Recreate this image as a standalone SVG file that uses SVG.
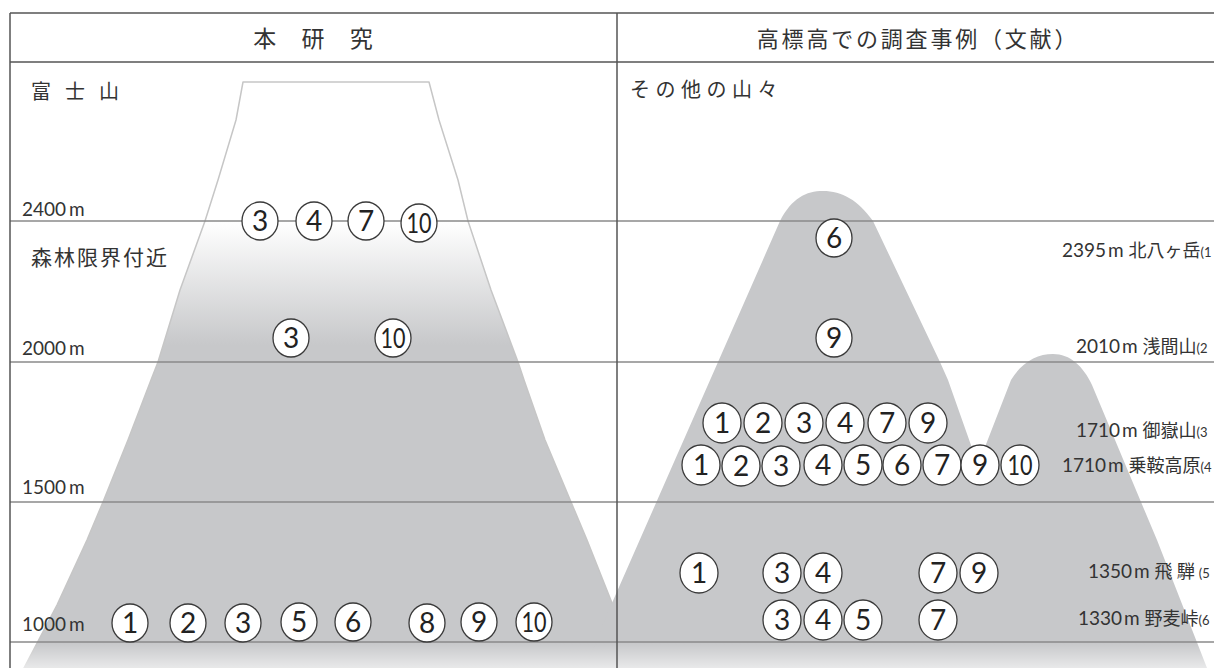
<svg xmlns="http://www.w3.org/2000/svg" width="1214" height="668" viewBox="0 0 1214 668">
<defs>
<style>
.frame{stroke:#555;stroke-width:1.5;fill:none}
.alt{stroke:#8a8a8a;stroke-width:1.4;fill:none}
.jp{font-family:"Noto Sans CJK JP","Noto Sans",sans-serif;fill:#333}
.num{font-family:Lato,"Noto Sans CJK JP",sans-serif;fill:#333}
.c{fill:#fff;stroke:#3a3a3a;stroke-width:1.3}
.n{font-family:Lato,"Liberation Sans",sans-serif;font-size:28px;fill:#222;text-anchor:middle}
.ten{font-size:27px}
.lbl{font-family:Lato,"Noto Sans CJK JP",sans-serif;font-size:19px;fill:#333}
.kj{font-family:"Noto Sans CJK JP",sans-serif;font-size:18px}
.ref{font-size:13px}
</style>
<linearGradient id="fuji" gradientUnits="userSpaceOnUse" x1="0" y1="222" x2="0" y2="345">
<stop offset="0" stop-color="#ffffff"/>
<stop offset="1" stop-color="#c7c8ca"/>
</linearGradient>
<linearGradient id="fade" gradientUnits="userSpaceOnUse" x1="0" y1="643" x2="0" y2="668">
<stop offset="0" stop-color="#ffffff" stop-opacity="0"/>
<stop offset="1" stop-color="#ffffff" stop-opacity="0.6"/>
</linearGradient>
</defs>
<rect x="0" y="0" width="1214" height="668" fill="#fff"/>

<g id="mountains">
<path id="fuji-shape" d="M243,82 L429,82 L439,120 L458,180 L468,221 L491,290 L518,362 L524,380 L545,440 L571,502 L587,540 L612,603 L638,668 L24,668 L57,605 L87,540 L103,502 L128,440 L151,380 L158,362 L180,290 L205,221 L218,180 L236,120 Z" fill="url(#fuji)" stroke="#c6c6c6" stroke-width="1.5" stroke-linejoin="round"/>
<path id="other-mountains" d="M585,668 L612,603 L780,221 C792,198 806,191 823,191 C842,191 858,200 873,221 L940,362 L948,380 L978,465 L1011,380 C1022,362 1037,354 1053,354 C1070,354 1083,366 1092,385 L1141,502 L1157,540 L1207,668 Z" fill="#c7c8ca"/>
<rect x="10" y="643" width="1204" height="25" fill="url(#fade)"/>
</g>

<g id="grid">
<line class="alt" x1="10" y1="221" x2="1214" y2="221"/>
<line class="alt" x1="10" y1="362" x2="1214" y2="362"/>
<line class="alt" x1="10" y1="502" x2="1214" y2="502"/>
<line class="alt" x1="10" y1="642" x2="1214" y2="642"/>
<line class="frame" x1="10" y1="13" x2="1214" y2="13"/>
<line class="frame" x1="10" y1="62" x2="1214" y2="62"/>
<line class="frame" x1="10" y1="13" x2="10" y2="668"/>
<line class="frame" x1="617" y1="13" x2="617" y2="668"/>
</g>

<g id="headers">
<text class="jp" x="318" y="47" font-size="23" text-anchor="middle" xml:space="preserve" letter-spacing="10">本 研 究</text>
<text class="jp" x="918" y="47" font-size="22" text-anchor="middle" letter-spacing="2.8">高標高での調査事例（文献）</text>
</g>

<g id="left-labels">
<text class="jp" font-size="20" y="99" x="31 51 65 85 99">富 士 山</text>
<text class="jp" font-size="21" x="31" y="265" letter-spacing="2">森林限界付近</text>
<text class="num" font-size="19" x="22" y="216">2400<tspan dx="3">m</tspan></text>
<text class="num" font-size="19" x="22" y="355">2000<tspan dx="3">m</tspan></text>
<text class="num" font-size="19" x="22" y="494">1500<tspan dx="3">m</tspan></text>
<text class="num" font-size="19" x="22" y="631">1000<tspan dx="3">m</tspan></text>
</g>

<g id="right-labels">
<text class="jp" font-size="20" x="630" y="97" letter-spacing="5.5">その他の山々</text>
<text class="lbl" x="1062" y="257">2395<tspan dx="2">m</tspan> <tspan class="kj">北八ヶ岳</tspan><tspan class="ref">(1</tspan></text>
<text class="lbl" x="1076" y="353">2010<tspan dx="2">m</tspan> <tspan class="kj">浅間山</tspan><tspan class="ref">(2</tspan></text>
<text class="lbl" x="1076" y="437">1710<tspan dx="2">m</tspan> <tspan class="kj">御嶽山</tspan><tspan class="ref">(3</tspan></text>
<text class="lbl" x="1062" y="472">1710<tspan dx="2">m</tspan> <tspan class="kj">乗鞍高原</tspan><tspan class="ref">(4</tspan></text>
<text class="lbl" x="1088" y="578">1350<tspan dx="2">m</tspan> <tspan class="kj">飛 騨 </tspan><tspan class="ref">(5</tspan></text>
<text class="lbl" x="1078" y="625">1330<tspan dx="2">m</tspan> <tspan class="kj">野麦峠</tspan><tspan class="ref">(6</tspan></text>
</g>

<g id="fuji-2400">
<ellipse class="c" cx="260" cy="221" rx="18" ry="19"/><text class="n" x="260" y="231">3</text>
<ellipse class="c" cx="314" cy="221" rx="18" ry="19"/><text class="n" x="314" y="231">4</text>
<ellipse class="c" cx="366" cy="221" rx="18" ry="19"/><text class="n" x="366" y="231">7</text>
<ellipse class="c" cx="419" cy="223" rx="18" ry="19"/><text class="n ten" x="419" y="233" textLength="25" lengthAdjust="spacingAndGlyphs">10</text>
</g>
<g id="fuji-2000">
<ellipse class="c" cx="291" cy="338" rx="18" ry="19"/><text class="n" x="291" y="348">3</text>
<ellipse class="c" cx="393" cy="338" rx="18" ry="19"/><text class="n ten" x="393" y="348" textLength="25" lengthAdjust="spacingAndGlyphs">10</text>
</g>
<g id="fuji-1000">
<ellipse class="c" cx="130" cy="623" rx="18" ry="19"/><text class="n" x="130" y="633">1</text>
<ellipse class="c" cx="188" cy="623" rx="18" ry="19"/><text class="n" x="188" y="633">2</text>
<ellipse class="c" cx="243" cy="623" rx="18" ry="19"/><text class="n" x="243" y="633">3</text>
<ellipse class="c" cx="299" cy="622" rx="18" ry="19"/><text class="n" x="299" y="632">5</text>
<ellipse class="c" cx="353" cy="622" rx="18" ry="19"/><text class="n" x="353" y="632">6</text>
<ellipse class="c" cx="427" cy="623" rx="18" ry="19"/><text class="n" x="427" y="633">8</text>
<ellipse class="c" cx="479" cy="622" rx="18" ry="19"/><text class="n" x="479" y="632">9</text>
<ellipse class="c" cx="534" cy="622" rx="18" ry="19"/><text class="n ten" x="534" y="632" textLength="25" lengthAdjust="spacingAndGlyphs">10</text>
</g>

<g id="kitayatsu">
<ellipse class="c" cx="834" cy="238" rx="18" ry="19"/><text class="n" x="834" y="248">6</text>
</g>
<g id="asama">
<ellipse class="c" cx="834" cy="338" rx="18" ry="19"/><text class="n" x="834" y="348">9</text>
</g>
<g id="ontake">
<ellipse class="c" cx="722" cy="423" rx="19" ry="20"/><text class="n" x="722" y="433">1</text>
<ellipse class="c" cx="763" cy="423" rx="19" ry="20"/><text class="n" x="763" y="433">2</text>
<ellipse class="c" cx="804" cy="423" rx="19" ry="20"/><text class="n" x="804" y="433">3</text>
<ellipse class="c" cx="845" cy="423" rx="19" ry="20"/><text class="n" x="845" y="433">4</text>
<ellipse class="c" cx="887" cy="423" rx="19" ry="20"/><text class="n" x="887" y="433">7</text>
<ellipse class="c" cx="928" cy="423" rx="19" ry="20"/><text class="n" x="928" y="433">9</text>
</g>
<g id="norikura">
<ellipse class="c" cx="701" cy="465" rx="19" ry="20"/><text class="n" x="701" y="475">1</text>
<ellipse class="c" cx="741" cy="466" rx="19" ry="20"/><text class="n" x="741" y="476">2</text>
<ellipse class="c" cx="781" cy="466" rx="19" ry="20"/><text class="n" x="781" y="476">3</text>
<ellipse class="c" cx="823" cy="465" rx="19" ry="20"/><text class="n" x="823" y="475">4</text>
<ellipse class="c" cx="863" cy="465" rx="19" ry="20"/><text class="n" x="863" y="475">5</text>
<ellipse class="c" cx="902" cy="465" rx="19" ry="20"/><text class="n" x="902" y="475">6</text>
<ellipse class="c" cx="942" cy="465" rx="19" ry="20"/><text class="n" x="942" y="475">7</text>
<ellipse class="c" cx="980" cy="465" rx="19" ry="20"/><text class="n" x="980" y="475">9</text>
<ellipse class="c" cx="1020" cy="465" rx="19" ry="20"/><text class="n ten" x="1020" y="475" textLength="25" lengthAdjust="spacingAndGlyphs">10</text>
</g>
<g id="hida">
<ellipse class="c" cx="699" cy="573" rx="19" ry="20"/><text class="n" x="699" y="583">1</text>
<ellipse class="c" cx="782" cy="573" rx="19" ry="20"/><text class="n" x="782" y="583">3</text>
<ellipse class="c" cx="823" cy="573" rx="19" ry="20"/><text class="n" x="823" y="583">4</text>
<ellipse class="c" cx="938" cy="573" rx="19" ry="20"/><text class="n" x="938" y="583">7</text>
<ellipse class="c" cx="979" cy="573" rx="19" ry="20"/><text class="n" x="979" y="583">9</text>
</g>
<g id="nomugi">
<ellipse class="c" cx="782" cy="620" rx="19" ry="20"/><text class="n" x="782" y="630">3</text>
<ellipse class="c" cx="823" cy="620" rx="19" ry="20"/><text class="n" x="823" y="630">4</text>
<ellipse class="c" cx="863" cy="620" rx="19" ry="20"/><text class="n" x="863" y="630">5</text>
<ellipse class="c" cx="938" cy="620" rx="19" ry="20"/><text class="n" x="938" y="630">7</text>
</g>
</svg>
